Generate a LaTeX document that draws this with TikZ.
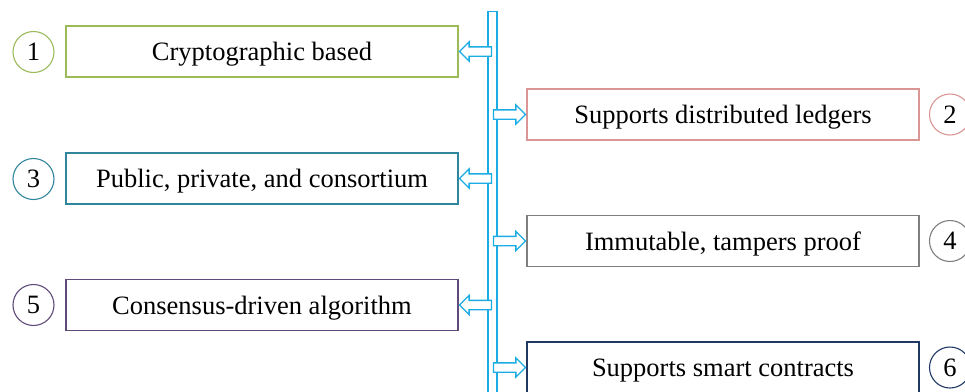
\documentclass[tikz,border=0pt]{standalone}
\usepackage{fontspec}
\setmainfont{Liberation Serif}
\usetikzlibrary{shapes.arrows}

\definecolor{cgreen}{RGB}{155,187,89}
\definecolor{cpink}{RGB}{217,150,148}
\definecolor{cteal}{RGB}{49,133,156}
\definecolor{cgray}{RGB}{127,127,127}
\definecolor{cpurple}{RGB}{96,74,123}
\definecolor{cnavy}{RGB}{31,56,100}
\definecolor{cblue}{RGB}{28,172,228}

\tikzset{
  feature/.style={draw=#1, line width=1.1pt, minimum width=392pt, minimum height=51pt,
    inner sep=0pt, text depth=0pt, font=\fontsize{26.5}{30}\selectfont},
  badge/.style={draw=#1, circle, line width=1.1pt, minimum size=41pt, inner sep=0pt,
    font=\fontsize{26.5}{30}\selectfont},
  pointer/.style={single arrow, draw=cblue, fill=white, line width=1.3pt,
    minimum height=32pt, minimum width=18pt, inner xsep=0pt, inner ysep=4pt,
    single arrow head extend=5pt, single arrow head indent=0pt},
}

\begin{document}
\begin{tikzpicture}[x=1pt, y=-1pt]
  \useasboundingbox (0, 0) rectangle (965, 391);

  % colonne centrale
  \node[draw=cblue, fill=white, line width=1.3pt, minimum width=9pt, minimum height=390pt,
    inner sep=0pt, anchor=north] (spine) at (492.5, 11) {};

  % gauche
  \node[feature=cgreen]   (f1) at (262, 51.5)  {Cryptographic based};
  \node[feature=cteal]    (f3) at (262, 178.5) {Public, private, and consortium};
  \node[feature=cpurple]  (f5) at (262, 305)   {Consensus-driven algorithm};
  \node[badge=cgreen]     (n1) at (33.5, 52)   {1};
  \node[badge=cteal]      (n3) at (33.5, 179)  {3};
  \node[badge=cpurple]    (n5) at (33.5, 305)  {5};

  % droite
  \node[feature=cpink]    (f2) at (723, 114.5) {Supports distributed ledgers};
  \node[feature=cgray]    (f4) at (723, 241)   {Immutable, tampers proof};
  \node[feature=cnavy]    (f6) at (723, 367.5) {Supports smart contracts};
  \node[badge=cpink]      (n2) at (950, 114.5) {2};
  \node[badge=cgray]      (n4) at (950, 241)   {4};
  \node[badge=cnavy]      (n6) at (950, 367.5) {6};

  % flèches
  \node[pointer, shape border rotate=180, anchor=tip] (a1) at (f1.east) {};
  \node[pointer, shape border rotate=180, anchor=tip] (a3) at (f3.east) {};
  \node[pointer, shape border rotate=180, anchor=tip] (a5) at (f5.east) {};
  \node[pointer, anchor=tip] (a2) at (f2.west) {};
  \node[pointer, anchor=tip] (a4) at (f4.west) {};
  \node[pointer, anchor=tip] (a6) at (f6.west) {};
\end{tikzpicture}
\end{document}
